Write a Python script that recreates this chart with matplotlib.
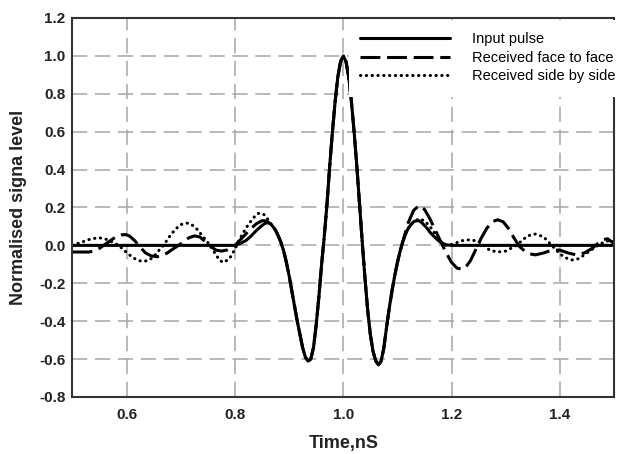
import matplotlib
matplotlib.use("Agg")
import matplotlib.pyplot as plt
from matplotlib.patches import Rectangle

plt.rcParams["font.family"] = ["Liberation Sans", "DejaVu Sans"]
plt.rcParams["axes.unicode_minus"] = False

# main pulse shared by all three traces (ns, normalised level)
core_t = [0.870, 0.875, 0.880, 0.885, 0.890, 0.895, 0.900, 0.905, 0.910, 0.915,
          0.920, 0.925, 0.930, 0.935, 0.940, 0.945, 0.950, 0.955, 0.960, 0.965,
          0.970, 0.975, 0.980, 0.985, 0.990, 0.995, 1.000, 1.005, 1.010, 1.015,
          1.020, 1.025, 1.030, 1.035, 1.040, 1.045, 1.050, 1.055, 1.060, 1.065,
          1.070, 1.075, 1.080, 1.085, 1.090, 1.095, 1.100, 1.105, 1.110]
core_v = [0.10, 0.08, 0.05, 0.015, -0.03, -0.09, -0.16, -0.24, -0.32, -0.40,
          -0.47, -0.54, -0.59, -0.61, -0.60, -0.54, -0.42, -0.27, -0.10, 0.05,
          0.22, 0.42, 0.60, 0.76, 0.89, 0.97, 1.00, 0.97, 0.89, 0.76,
          0.60, 0.42, 0.22, 0.02, -0.17, -0.34, -0.47, -0.56, -0.61, -0.63,
          -0.61, -0.54, -0.43, -0.33, -0.24, -0.16, -0.09, -0.03, 0.02]

# input pulse tails
input_left_t = [0.50, 0.80, 0.81, 0.82, 0.83, 0.84, 0.85, 0.855, 0.86, 0.865]
input_left_v = [0.0, 0.0, 0.01, 0.025, 0.05, 0.08, 0.105, 0.115, 0.12, 0.115]
input_right_t = [1.115, 1.12, 1.125, 1.13, 1.135, 1.14, 1.145, 1.15, 1.155, 1.16,
                 1.17, 1.18, 1.19, 1.20, 1.50]
input_right_v = [0.06, 0.09, 0.11, 0.125, 0.13, 0.13, 0.12, 0.105, 0.09, 0.07,
                 0.04, 0.015, 0.003, 0.0, 0.0]

# received face to face tails
face_left_t = [0.50, 0.51, 0.52, 0.53, 0.54, 0.55, 0.56, 0.57, 0.58, 0.59,
               0.598, 0.605, 0.615, 0.625, 0.635, 0.645, 0.656, 0.665, 0.675, 0.685,
               0.696, 0.705, 0.715, 0.725, 0.735, 0.745, 0.755, 0.765, 0.775, 0.785,
               0.795, 0.80, 0.81, 0.82, 0.83, 0.84, 0.85, 0.855, 0.86, 0.865]
face_left_v = [-0.035, -0.035, -0.035, -0.035, -0.03, -0.015, 0.005, 0.025, 0.045, 0.055,
               0.057, 0.05, 0.025, -0.01, -0.04, -0.055, -0.06, -0.055, -0.04, -0.02,
               0.0, 0.02, 0.04, 0.05, 0.045, 0.02, -0.005, -0.025, -0.03, -0.025,
               -0.01, 0.0, 0.03, 0.06, 0.09, 0.115, 0.13, 0.13, 0.125, 0.115]
face_right_t = [1.115, 1.12, 1.13, 1.14, 1.15, 1.16, 1.17, 1.18, 1.19, 1.20,
                1.21, 1.218, 1.225, 1.235, 1.245, 1.255, 1.265, 1.275, 1.285, 1.295,
                1.305, 1.315, 1.325, 1.335, 1.345, 1.355, 1.37, 1.385, 1.40, 1.415,
                1.43, 1.445, 1.46, 1.47, 1.48, 1.488, 1.495, 1.50]
face_right_v = [0.07, 0.12, 0.185, 0.21, 0.19, 0.14, 0.08, 0.02, -0.04, -0.09,
                -0.12, -0.125, -0.12, -0.08, -0.02, 0.04, 0.09, 0.125, 0.135, 0.125,
                0.09, 0.04, -0.005, -0.03, -0.045, -0.05, -0.04, -0.025, -0.025, -0.04,
                -0.05, -0.04, -0.015, 0.01, 0.03, 0.035, 0.02, 0.01]

# received side by side tails
side_left_t = [0.50, 0.51, 0.52, 0.535, 0.55, 0.565, 0.575, 0.585, 0.595, 0.605,
               0.615, 0.628, 0.64, 0.65, 0.66, 0.668, 0.68, 0.69, 0.70, 0.711,
               0.72, 0.73, 0.74, 0.754, 0.765, 0.772, 0.779, 0.79, 0.80, 0.81,
               0.82, 0.83, 0.84, 0.845, 0.85, 0.855, 0.86, 0.865]
side_left_v = [0.0, 0.01, 0.02, 0.035, 0.04, 0.03, 0.015, 0.0, -0.025, -0.05,
               -0.07, -0.085, -0.08, -0.06, -0.025, 0.0, 0.05, 0.085, 0.11, 0.118,
               0.11, 0.085, 0.05, 0.0, -0.05, -0.08, -0.09, -0.07, -0.02, 0.04,
               0.09, 0.13, 0.165, 0.17, 0.168, 0.16, 0.14, 0.12]
side_right_t = [1.115, 1.12, 1.13, 1.14, 1.15, 1.16, 1.17, 1.18, 1.19, 1.20,
                1.21, 1.22, 1.235, 1.25, 1.26, 1.27, 1.285, 1.30, 1.31, 1.32,
                1.33, 1.34, 1.355, 1.37, 1.385, 1.40, 1.41, 1.422, 1.435, 1.45,
                1.46, 1.47, 1.48, 1.49, 1.50]
side_right_v = [0.06, 0.09, 0.125, 0.14, 0.13, 0.10, 0.06, 0.02, 0.0, 0.005,
                0.015, 0.025, 0.03, 0.02, 0.0, -0.025, -0.035, -0.03, -0.015, 0.0,
                0.025, 0.05, 0.06, 0.045, 0.0, -0.045, -0.065, -0.077, -0.07, -0.04,
                -0.02, 0.0, 0.015, 0.025, 0.02]

labels = ["Input pulse", "Received face to face", "Received side by side"]
x_ticks = [0.6, 0.8, 1.0, 1.2, 1.4]
y_ticks = [-0.8, -0.6, -0.4, -0.2, 0.0, 0.2, 0.4, 0.6, 0.8, 1.0, 1.2]

fig = plt.figure(figsize=(6.19, 4.54), dpi=100)
ax = fig.add_axes([0.1171, 0.1256, 0.8749, 0.8348])

ax.plot(input_left_t + core_t + input_right_t, input_left_v + core_v + input_right_v,
        color="black", lw=2.2, solid_capstyle="round", label=labels[0])
ax.plot(face_left_t + core_t + face_right_t, face_left_v + core_v + face_right_v,
        color="black", lw=2.2, ls=(0, (6.5, 2.2)), label=labels[1])
ax.plot(side_left_t + core_t + side_right_t, side_left_v + core_v + side_right_v,
        color="black", lw=2.2, ls=(0, (0.1, 1.8)), dash_capstyle="round", label=labels[2])

ax.set_xlim(0.5, 1.5)
ax.set_ylim(-0.8, 1.2)
ax.set_xticks(x_ticks)
ax.set_yticks(y_ticks)
ax.set_xticklabels([f"{v:.1f}" for v in x_ticks])
ax.set_yticklabels([f"{v:.1f}" for v in y_ticks])
ax.tick_params(axis="both", length=0, labelsize=11, colors="#222222")
ax.tick_params(axis="x", pad=8)
ax.tick_params(axis="y", pad=5)
for lab in ax.get_xticklabels() + ax.get_yticklabels():
    lab.set_fontweight("bold")

ax.grid(True, color="#a6a6a6", lw=1.1, ls=(0, (10, 5)))
for sp in ax.spines.values():
    sp.set_linewidth(1.5)
    sp.set_color("#333333")
ax.spines["top"].set_zorder(3)

ax.set_xlabel("Time,nS", fontsize=13, fontweight="bold", labelpad=9, color="#222222")
ax.set_ylabel("Normalised signa level", fontsize=13, fontweight="bold", labelpad=9,
              color="#222222")

# white block behind the legend, it hides curves, grid and right spine there
ax.add_patch(Rectangle((0.5106, 0.7916), 0.52, 0.2031, transform=ax.transAxes,
                       facecolor="white", edgecolor="none", clip_on=False, zorder=2.8))
ax.legend(loc="upper left", bbox_to_anchor=(0.531, 0.962), frameon=False,
          fontsize=10.5, handlelength=6.2, handletextpad=1.5, labelspacing=0.3,
          borderpad=0, borderaxespad=0)

fig.savefig("out.png", dpi=100)
